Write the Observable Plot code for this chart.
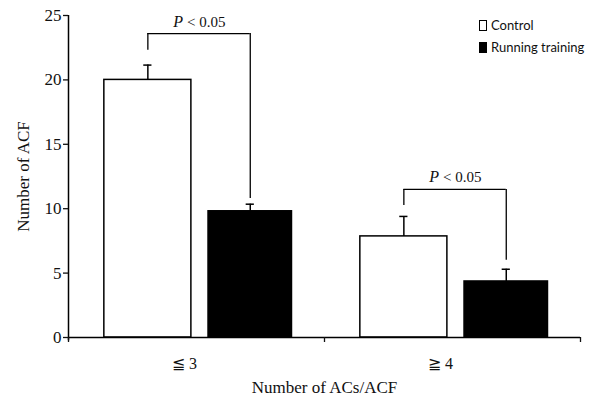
<!DOCTYPE html>
<html>
<head>
<meta charset="utf-8">
<script src="https://cdn.jsdelivr.net/npm/d3@7"></script>
<script src="https://cdn.jsdelivr.net/npm/@observablehq/plot@0.6"></script>
<style>
  html, body { margin: 0; padding: 0; background: #fff; }
  #wrap { position: relative; width: 600px; height: 400px; }
  #legend { position: absolute; left: 479px; top: 14px; font-family: Lato, "Open Sans", sans-serif; font-size: 13px; color: #111; line-height: 22px; }
  #legend .sw { display: inline-block; width: 6px; height: 9px; border: 1.3px solid #000; margin-right: 4px; vertical-align: -1px; }
</style>
</head>
<body>
<div id="wrap"><div id="legend"></div></div>
<script>
// ---- data ----
const categories = ["≦ 3", "≧ 4"];
const seriesNames = ["Control", "Running training"];
const controlMean = [20, 7.85];
const controlErr = [1.15, 1.55];
const runningMean = [9.8, 4.35];
const runningErr = [0.55, 0.95];
const yTicks = [0, 5, 10, 15, 20, 25];
const pLabel = ["P", "< 0.05"];
const bracketTop = [23.6, 11.5];
const bracketLeftEnd = [22.3, 10.25];
const bracketRightEnd = [10.8, 6.0];

// ---- layout helpers (positions within each category band) ----
const barOffsets = {"Control": [-0.36, -0.02], "Running training": [0.047, 0.373]};
const fills = {"Control": "white", "Running training": "black"};
const capHalf = 0.016;

const rows = [];
categories.forEach((c, i) => {
  [[seriesNames[0], controlMean[i], controlErr[i]], [seriesNames[1], runningMean[i], runningErr[i]]].forEach(([s, m, e]) => {
    const [a, b] = barOffsets[s];
    rows.push({cat: c, series: s, mean: m, err: e, x1: i + 0.5 + a, x2: i + 0.5 + b, xc: i + 0.5 + (a + b) / 2});
  });
});
const brackets = categories.map((c, i) => {
  const ctrl = rows.find(r => r.cat === c && r.series === seriesNames[0]);
  const run = rows.find(r => r.cat === c && r.series === seriesNames[1]);
  return {xa: ctrl.xc, xb: run.xc, xm: (ctrl.xc + run.xc) / 2, top: bracketTop[i], left: bracketLeftEnd[i], right: bracketRightEnd[i]};
});

const chart = Plot.plot({
  width: 600,
  height: 400,
  marginLeft: 68,
  marginRight: 20,
  marginTop: 15,
  marginBottom: 63,
  style: {fontFamily: "'Liberation Serif', 'DejaVu Serif', serif", fontSize: "16px", color: "#111", background: "white"},
  x: {domain: [0, 2]},
  y: {domain: [0, 25]},
  marks: [
    Plot.rectY(rows, {x1: "x1", x2: "x2", y1: 0, y2: "mean", fill: d => fills[d.series], stroke: "black", strokeWidth: 1.5}),
    Plot.ruleX(rows, {x: "xc", y1: "mean", y2: d => d.mean + d.err, stroke: "black", strokeWidth: 1.5}),
    Plot.ruleY(rows, {y: d => d.mean + d.err, x1: d => d.xc - capHalf, x2: d => d.xc + capHalf, stroke: "black", strokeWidth: 1.5}),
    // significance brackets
    Plot.ruleX(brackets, {x: "xa", y1: "left", y2: "top", stroke: "black", strokeWidth: 1.3}),
    Plot.ruleX(brackets, {x: "xb", y1: "right", y2: "top", stroke: "black", strokeWidth: 1.3}),
    Plot.ruleY(brackets, {y: "top", x1: "xa", x2: "xb", stroke: "black", strokeWidth: 1.3}),
    Plot.text(brackets, {x: "xm", y: "top", text: () => pLabel[0], textAnchor: "end", lineAnchor: "bottom", dx: -16, dy: -7, fontStyle: "italic", fontSize: 16}),
    Plot.text(brackets, {x: "xm", y: "top", text: () => pLabel[1], textAnchor: "start", lineAnchor: "bottom", dx: -12, dy: -7, fontSize: 15}),
    // axes
    Plot.ruleX([0], {y1: -0.25, y2: 25, stroke: "black", strokeWidth: 1.5}),
    Plot.ruleY([0], {x1: 0, x2: 2, stroke: "black", strokeWidth: 1.5}),
    Plot.axisY({ticks: yTicks, tickSize: 5, tickPadding: 2, tickFormat: d => d, label: "Number of ACF", labelAnchor: "center", labelArrow: "none", labelOffset: 52, fontSize: 17, strokeWidth: 1.3}),
    Plot.axisX({ticks: [0, 1, 2], tickSize: 5, tickFormat: () => "", label: null, strokeWidth: 1.3}),
    Plot.axisX({ticks: [0.5, 1.5], tickSize: 0, tickPadding: 20, dx: -12, tickFormat: d => categories[Math.floor(d)], label: null, fontSize: 16}),
    Plot.axisX({ticks: [], tickSize: 0, label: "Number of ACs/ACF", labelAnchor: "center", labelArrow: "none", labelOffset: 55, fontSize: 17})
  ]
});
const wrap = document.getElementById("wrap");
wrap.insertBefore(chart, wrap.firstChild);
d3.select(chart).selectAll("[aria-label='y-axis label'], [aria-label='x-axis label']").attr("font-size", 17);

// legend
const legend = document.getElementById("legend");
seriesNames.forEach(s => {
  const row = document.createElement("div");
  const sw = document.createElement("span");
  sw.className = "sw";
  sw.style.background = fills[s];
  row.appendChild(sw);
  row.appendChild(document.createTextNode(s));
  legend.appendChild(row);
});
</script>
</body>
</html>
